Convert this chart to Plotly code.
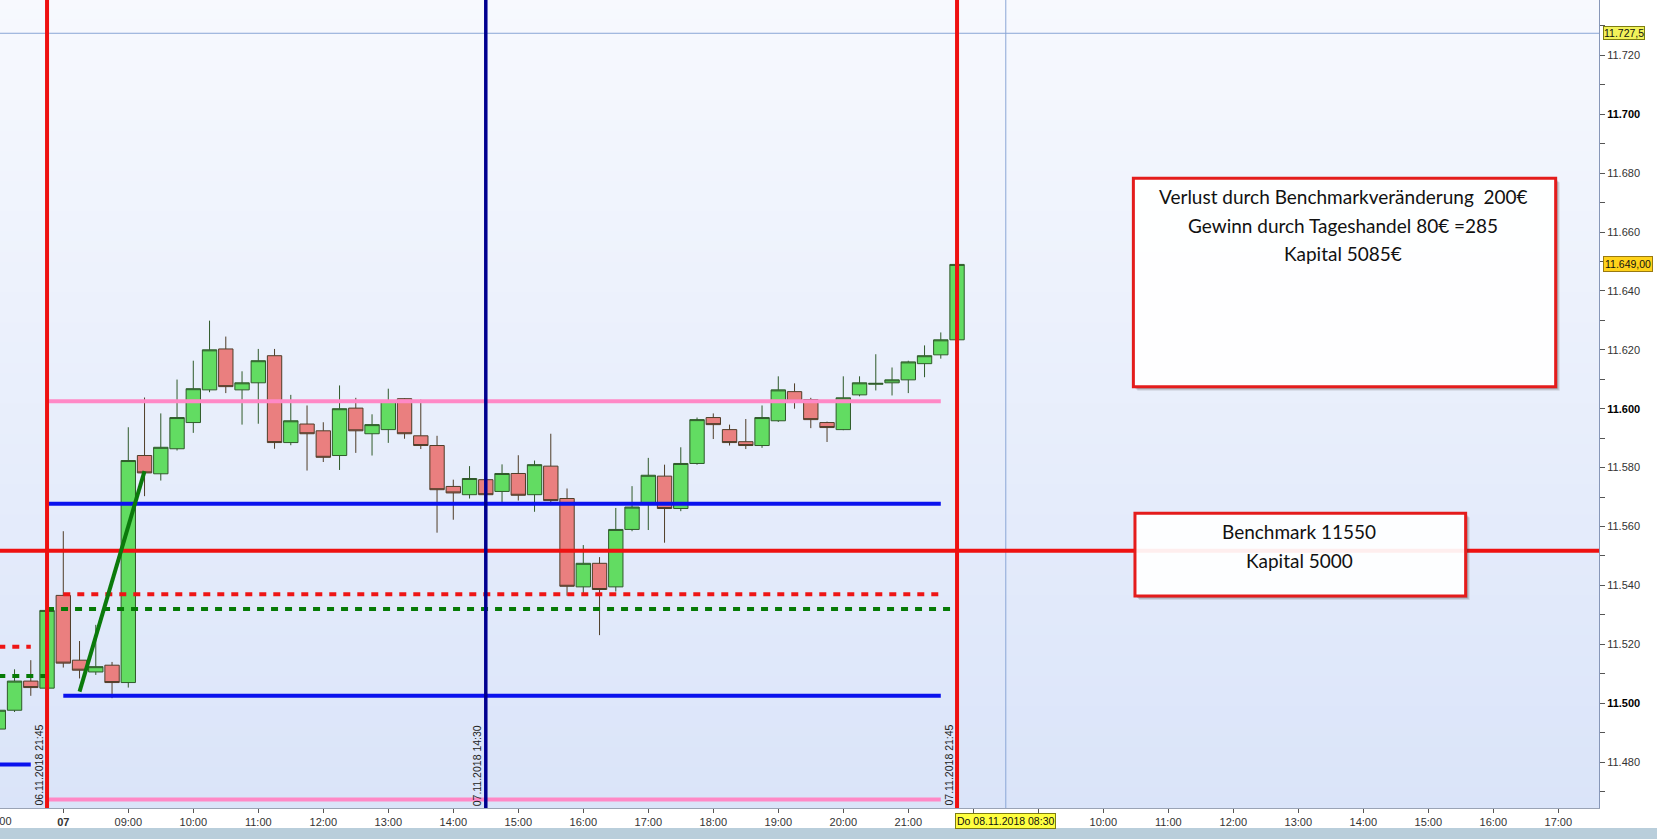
import plotly.graph_objects as go

# ---------------- data ----------------
# 15-minute DAX candles: 06.11.2018 21:00 .. 07.11.2018 21:45
candle_open = [11491.2, 11497.6, 11507.5, 11505.1,
               11536.6, 11514.6, 11510.6, 11512.9, 11507.0, 11584.1, 11577.9, 11586.4,
               11595.3, 11606.4, 11620.3, 11606.4, 11608.8, 11618.0, 11588.5, 11594.8,
               11592.5, 11584.1, 11600.2, 11591.5, 11592.9, 11603.4, 11590.8, 11587.5,
               11573.6, 11570.8, 11575.9, 11571.9, 11578.0, 11570.8, 11580.5, 11569.5,
               11539.5, 11547.5, 11539.5, 11559.0, 11567.5, 11577.1, 11566.1, 11581.4,
               11597.0, 11592.9, 11588.8, 11587.5, 11595.9, 11605.8, 11603.1, 11595.3,
               11592.9, 11604.7, 11608.3, 11608.8, 11609.8, 11615.3, 11618.3, 11623.4]
candle_high = [11499.0, 11511.5, 11514.6, 11532.0,
               11558.4, 11521.1, 11526.6, 11514.0, 11593.7, 11603.8, 11598.4, 11609.9,
               11616.3, 11629.9, 11624.5, 11612.7, 11620.3, 11620.3, 11604.7, 11601.1,
               11595.4, 11607.9, 11603.7, 11598.1, 11606.8, 11603.6, 11603.1, 11590.8,
               11575.9, 11580.5, 11576.5, 11581.1, 11584.2, 11582.4, 11591.5, 11572.9,
               11553.7, 11549.6, 11566.3, 11573.7, 11583.3, 11581.0, 11586.9, 11597.0,
               11598.4, 11594.6, 11596.5, 11601.1, 11611.0, 11608.6, 11603.7, 11595.6,
               11611.0, 11611.0, 11618.5, 11614.0, 11616.3, 11621.5, 11625.9, 11649.0]
candle_low = [11490.0, 11497.0, 11502.5, 11505.0,
              11512.1, 11508.4, 11509.6, 11501.7, 11505.3, 11570.3, 11575.6, 11585.8,
              11591.8, 11605.6, 11605.3, 11594.6, 11594.9, 11586.4, 11587.6, 11579.0,
              11581.9, 11579.2, 11585.0, 11584.1, 11588.4, 11589.8, 11586.3, 11557.9,
              11562.3, 11569.5, 11570.3, 11567.8, 11568.8, 11565.0, 11567.7, 11536.5,
              11536.9, 11523.1, 11537.9, 11558.4, 11558.8, 11554.5, 11565.2, 11581.0,
              11589.7, 11587.5, 11586.3, 11586.7, 11595.5, 11600.0, 11593.4, 11588.7,
              11592.7, 11604.2, 11606.2, 11604.5, 11605.3, 11610.7, 11617.0, 11623.0]
candle_close = [11497.6, 11507.5, 11505.3, 11531.5,
                11513.6, 11511.2, 11512.4, 11507.0, 11582.4, 11578.2, 11586.9, 11597.0,
                11606.8, 11620.0, 11607.5, 11608.8, 11616.3, 11588.5, 11595.9, 11591.5,
                11583.5, 11600.0, 11592.5, 11594.6, 11602.5, 11591.5, 11587.5, 11572.5,
                11571.4, 11576.3, 11570.8, 11578.0, 11570.6, 11581.0, 11568.8, 11539.7,
                11547.5, 11538.6, 11559.0, 11566.6, 11577.4, 11566.1, 11581.4, 11596.3,
                11594.6, 11588.5, 11587.5, 11597.0, 11606.4, 11602.5, 11596.3, 11593.6,
                11603.7, 11608.8, 11608.6, 11609.8, 11615.9, 11618.0, 11623.4, 11649.0]

# horizontal drawing levels (price, from, to)
level_price = [11602.5, 11567.7, 11537.0, 11532.0, 11502.5, 11467.3, 11519.2, 11509.2, 11479.2]
level_from = ["06.11 21:45", "06.11 21:45", "07.11 08:00", "06.11 21:45", "07.11 08:00",
              "06.11 21:45", "06.11 21:00", "06.11 21:00", "06.11 21:00"]
level_to = ["07.11 21:30", "07.11 21:30", "07.11 21:30", "07.11 21:45", "07.11 21:30",
            "07.11 21:30", "06.11 21:30", "06.11 21:45", "06.11 21:30"]

benchmark_price = 11551.8

trend_time = ["07.11 08:15", "07.11 09:15"]
trend_price = [11503.9, 11578.8]

vline_time = ["06.11 21:45", "07.11 14:30", "07.11 21:45"]
vline_label = ["06.11.2018 21:45", "07.11.2018 14:30", "07.11.2018 21:45"]

cross_time = "08.11 08:30"
cross_price = 11727.5

box1_lines = ["Verlust durch Benchmarkveränderung  200€",
              "Gewinn durch Tageshandel 80€ =285",
              "Kapital 5085€"]
box2_lines = ["Benchmark 11550", "Kapital 5000"]

# ---------------- time slots ----------------
slot_labels = [f"06.11 21:{m:02d}" for m in (0, 15, 30, 45)]
for d in ("07.11", "08.11"):
    for h in range(8, 22):
        for m in (0, 15, 30, 45):
            slot_labels.append(f"{d} {h:02d}:{m:02d}")
pos = {lab: i for i, lab in enumerate(slot_labels)}
candle_time = slot_labels[:len(candle_open)]

# ---------------- styles ----------------
FONT = "Arial, Liberation Sans, sans-serif"
level_style = [
    dict(color="#ff88c6", width=4),
    dict(color="#0a12ee", width=4),
    dict(color="#ee1515", width=4, dash="7px,7px"),
    dict(color="#067a06", width=4, dash="7px,7px"),
    dict(color="#0a12ee", width=4),
    dict(color="#ff88c6", width=4),
    dict(color="#ee1515", width=4, dash="7px,7px"),
    dict(color="#067a06", width=4, dash="7px,7px"),
    dict(color="#0a12ee", width=4),
]
vline_style = [dict(color="#ee1111", width=4), dict(color="#00008f", width=3.5),
               dict(color="#ee1111", width=4)]

X0 = 0.105
X1 = X0 + 1599 / 16.25
Y0, Y1 = 11464.4, 11738.8

fig = go.Figure()

# gradient background bands
nb = 80
top = (247, 249, 254)
bot = (218, 228, 249)
for i in range(nb):
    t = (i + 0.5) / nb
    c = tuple(round(top[j] + (bot[j] - top[j]) * t) for j in range(3))
    fig.add_shape(type="rect", xref="paper", yref="paper", x0=0, x1=1,
                  y0=1 - (i + 1) / nb, y1=1 - i / nb + 0.001,
                  fillcolor=f"rgb{c}", line=dict(width=0), layer="below")

# crosshair
fig.add_shape(type="line", xref="paper", yref="y", x0=0, x1=1, y0=cross_price, y1=cross_price,
              line=dict(color="#8aa6d6", width=1), layer="below")
fig.add_shape(type="line", xref="x", yref="paper", x0=pos[cross_time], x1=pos[cross_time], y0=0, y1=1,
              line=dict(color="#8aa6d6", width=1), layer="below")

fig.add_trace(go.Candlestick(
    x=[pos[t] for t in candle_time],
    open=candle_open, high=candle_high, low=candle_low, close=candle_close,
    increasing=dict(line=dict(color="#2f5a2a", width=1), fillcolor="#62dc62"),
    decreasing=dict(line=dict(color="#4f3d28", width=1), fillcolor="#ea7f7f"),
    whiskerwidth=0, showlegend=False, hoverinfo="skip"))

# benchmark line
fig.add_trace(go.Scatter(x=[0, len(slot_labels) - 1], y=[benchmark_price, benchmark_price],
                         mode="lines", line=dict(color="#ee1111", width=4),
                         showlegend=False, hoverinfo="skip"))

for p, a, b, st in zip(level_price, level_from, level_to, level_style):
    fig.add_trace(go.Scatter(x=[pos[a], pos[b]], y=[p, p], mode="lines", line=st,
                             showlegend=False, hoverinfo="skip"))

fig.add_trace(go.Scatter(x=[pos[t] for t in trend_time], y=trend_price, mode="lines",
                         line=dict(color="#0b7a0b", width=4), showlegend=False, hoverinfo="skip"))

annotations = []
for t, lab, st in zip(vline_time, vline_label, vline_style):
    fig.add_shape(type="line", xref="x", yref="paper", x0=pos[t], x1=pos[t], y0=0, y1=1,
                  line=st, layer="above")
    annotations.append(dict(x=pos[t], xref="x", y=0, yref="paper", text=lab, textangle=-90,
                            xanchor="right", yanchor="bottom", xshift=-1, showarrow=False,
                            font=dict(family=FONT, size=10.5, color="#222")))


# text boxes (paper coordinates of the plot area)
def box(x0, x1, y0, y1):
    for k, a in ((4, 0.12), (3, 0.15), (2, 0.2)):
        dx, dy = k / 1599, k / 808
        fig.add_shape(type="rect", xref="paper", yref="paper", x0=x1, x1=x1 + dx, y0=y0 - dy, y1=y1 - dy,
                      fillcolor=f"rgba(50,50,50,{a})", line=dict(width=0), layer="above")
        fig.add_shape(type="rect", xref="paper", yref="paper", x0=x0 + dx, x1=x1, y0=y0 - dy, y1=y0,
                      fillcolor=f"rgba(50,50,50,{a})", line=dict(width=0), layer="above")
    fig.add_shape(type="rect", xref="paper", yref="paper", x0=x0, x1=x1, y0=y0, y1=y1,
                  fillcolor="rgba(255,255,255,0.93)", line=dict(color="#e41c1c", width=3), layer="above")


box(0.7088, 0.9729, 0.5214, 0.7793)
box(0.7098, 0.9166, 0.2624, 0.3647)
for txt, yy in zip(box1_lines, [0.7566, 0.7215, 0.6865]):
    annotations.append(dict(x=0.8402, y=yy, xref="paper", yref="paper", text=txt, showarrow=False,
                            xanchor="center", yanchor="middle",
                            font=dict(family="Lato, sans-serif", size=19, color="#111")))
for txt, yy in zip(box2_lines, [0.3420, 0.3069]):
    annotations.append(dict(x=0.8124, y=yy, xref="paper", yref="paper", text=txt, showarrow=False,
                            xanchor="center", yanchor="middle",
                            font=dict(family="Lato, sans-serif", size=19, color="#111")))


# price labels on the right axis
def de_fmt(v, nd):
    s = f"{v:,.{nd}f}"
    return s.replace(",", "X").replace(".", ",").replace("X", ".")


annotations.append(dict(x=1, xref="paper", y=cross_price, yref="y", text=de_fmt(cross_price, 1),
                        xanchor="left", yanchor="middle", xshift=4, showarrow=False,
                        bgcolor="#f2f25a", bordercolor="#7d7d10", borderwidth=1, borderpad=0,
                        font=dict(family=FONT, size=10.5, color="#111")))
annotations.append(dict(x=1, xref="paper", y=candle_close[-1], yref="y", text=de_fmt(candle_close[-1], 2),
                        xanchor="left", yanchor="middle", xshift=4, showarrow=False,
                        bgcolor="#ffd21a", bordercolor="#9a7a10", borderwidth=1, borderpad=1,
                        font=dict(family=FONT, size=10.5, color="#111")))
annotations.append(dict(x=pos[cross_time], xref="x", y=0, yref="paper", yshift=-13,
                        text="Do " + cross_time.split()[0] + ".2018 " + cross_time.split()[1],
                        xanchor="center", yanchor="middle", showarrow=False,
                        bgcolor="#ffff40", bordercolor="#7d7d10", borderwidth=1, borderpad=1,
                        font=dict(family=FONT, size=10.5, color="#111")))
# partially visible first hour label (06.11 21:00 sits just left of the plot edge)
first_slot_px = (0 - X0) * 1599 / (X1 - X0)
annotations.append(dict(x=0, xref="paper", y=0, yref="paper", yshift=-13, xshift=first_slot_px,
                        text=slot_labels[0].split()[1],
                        xanchor="center", yanchor="middle", showarrow=False,
                        font=dict(family=FONT, size=11, color="#333")))

# x ticks (labels under the crosshair time box are hidden, as in the original)
cross_slot = pos[cross_time]
tickvals, ticktext = [], []
for i, lab in enumerate(slot_labels):
    d, hm = lab.split()
    if hm.endswith(":00"):
        tickvals.append(i)
        if abs(i - cross_slot) <= 3:
            ticktext.append("")
        elif hm == "08:00":
            ticktext.append("<b>" + d[:2] + "</b>")
        else:
            ticktext.append(hm)

# y ticks
ytv, ytt = [], []
for v in range(11470, 11740, 10):
    ytv.append(v)
    if v % 20 == 0:
        s = f"{v:,}".replace(",", ".")
        ytt.append(f"<b><span style='color:#000'>{s}</span></b>" if v % 100 == 0 else s)
    else:
        ytt.append("")

fig.update_layout(
    width=1657, height=839,
    margin=dict(l=0, r=58, t=0, b=31, autoexpand=False),
    paper_bgcolor="white", plot_bgcolor="#e6edfb",
    boxgap=0.06, boxgroupgap=0.06,
    showlegend=False,
    annotations=annotations,
    xaxis=dict(range=[X0, X1], tickvals=tickvals, ticktext=ticktext, showgrid=False, zeroline=False,
               ticks="outside", ticklen=4, tickcolor="#555", showline=True, linecolor="#9aa3b5",
               tickfont=dict(family=FONT, size=11, color="#333"), rangeslider=dict(visible=False)),
    yaxis=dict(range=[Y0, Y1], side="right", tickvals=ytv, ticktext=ytt, showgrid=False, zeroline=False,
               ticks="outside", ticklen=5, tickcolor="#555", showline=True, linecolor="#8797b8",
               tickfont=dict(family=FONT, size=11, color="#333")),
)

# bottom scrollbar strip
fig.add_shape(type="rect", xref="paper", yref="paper", x0=0, x1=1657 / 1599,
              y0=-31 / 808, y1=-20 / 808, fillcolor="#b9cedb", line=dict(width=0), layer="above")

fig.write_html("out.html", config=dict(displayModeBar=False),
               post_script="document.body.style.margin='0px';document.body.style.overflow='hidden';")
